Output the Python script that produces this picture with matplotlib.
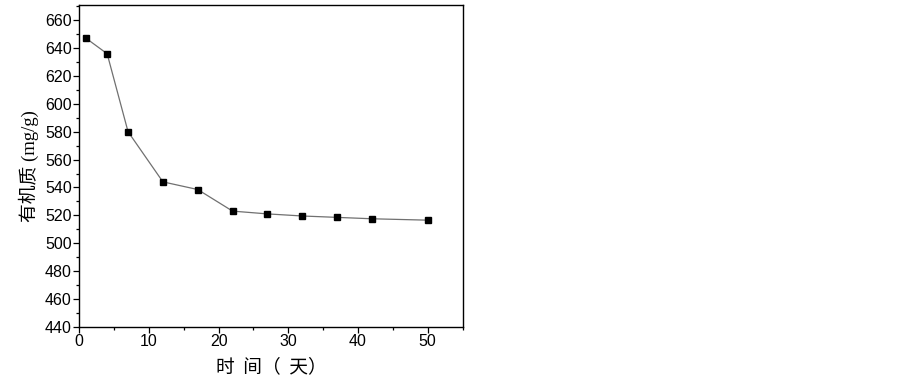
import matplotlib.pyplot as plt
from matplotlib.ticker import MultipleLocator

days = [1, 4, 7, 12, 17, 22, 27, 32, 37, 42, 50]
organic = [647, 636, 580, 544, 538.5, 523, 521, 519.5, 518.5, 517.5, 516.5]

plt.rcParams['font.family'] = ['Liberation Sans', 'Noto Sans CJK SC']

fig = plt.figure(figsize=(9.03, 3.81), dpi=100)
ax = fig.add_axes([0.0878, 0.1425, 0.4244, 0.8444])

ax.plot(days, organic, color='#707070', lw=0.9, marker='s', ms=5,
        mfc='black', mec='black')

ax.set_xlim(0, 55)
ax.set_ylim(440, 671)
ax.xaxis.set_major_locator(MultipleLocator(10))
ax.xaxis.set_minor_locator(MultipleLocator(5))
ax.yaxis.set_minor_locator(MultipleLocator(10))
ax.set_yticks(range(440, 661, 20))
ax.tick_params(which='major', length=4, width=0.9, labelsize=11.5, pad=1.5)
ax.tick_params(which='minor', length=2.2, width=0.9)
for s in ax.spines.values():
    s.set_linewidth(1.0)

ax.set_xlabel('时  间（  天）', fontsize=13.5, labelpad=5,
              family=['Noto Sans CJK SC'])
ax.set_ylabel('有机质 (mg/g)', fontsize=13.5, labelpad=4,
              family=['Liberation Serif', 'Noto Sans CJK SC'])

fig.savefig('out.png', dpi=100)
